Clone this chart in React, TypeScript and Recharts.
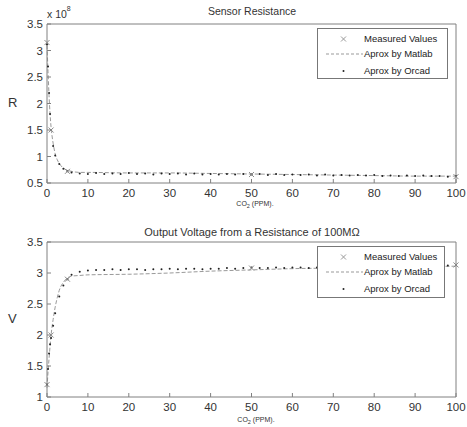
import React from 'react';
import { ComposedChart, Line, Scatter, XAxis, YAxis, Legend } from 'recharts';

const FONT = '"Liberation Sans", Arial, sans-serif';

// ---------- data ----------
const xTicks = [0, 10, 20, 30, 40, 50, 60, 70, 80, 90, 100];
const rTicks = [0.5, 1, 1.5, 2, 2.5, 3, 3.5];
const vTicks = [1, 1.5, 2, 2.5, 3, 3.5];

const measuredX = [0, 1, 5, 50, 100];
const measuredR = [3.15, 1.5, 0.72, 0.66, 0.62];
const measuredV = [1.2, 2.0, 2.9, 3.08, 3.13];

const matlabX = [0, 0.25, 0.5, 0.75, 1, 1.5, 2, 2.5, 3, 4, 5, 6, 8, 10, 20, 30, 40, 50, 60, 70, 80, 90, 100];
const matlabR = [3.1, 2.6, 2.15, 1.8, 1.55, 1.25, 1.05, 0.94, 0.87, 0.78, 0.74, 0.72, 0.7, 0.7, 0.69, 0.69, 0.68, 0.67, 0.66, 0.65, 0.64, 0.63, 0.63];
const matlabV = [1.15, 1.4, 1.62, 1.82, 2.0, 2.25, 2.45, 2.6, 2.72, 2.85, 2.92, 2.95, 2.96, 2.97, 2.98, 3.0, 3.03, 3.05, 3.07, 3.08, 3.09, 3.1, 3.11];

const orcadX = [0, 0.25, 0.5, 0.75, 1, 1.5, 2, 3, 4, 5, 6, 8,
  10, 12, 14, 16, 18, 20, 22, 24, 26, 28, 30, 32, 34, 36, 38, 40, 42, 44, 46, 48, 50,
  52, 54, 56, 58, 60, 62, 64, 66, 68, 70, 72, 74, 76, 78, 80, 82, 84, 86, 88, 90,
  92, 94, 96, 98, 100];
const orcadR = [3.12, 2.7, 2.2, 1.8, 1.5, 1.2, 1.02, 0.86, 0.77, 0.72, 0.7, 0.68,
  0.67, 0.69, 0.67, 0.68, 0.67, 0.69, 0.67, 0.68, 0.66, 0.68, 0.67, 0.68, 0.66, 0.68, 0.66, 0.67, 0.66, 0.67, 0.66, 0.67, 0.66,
  0.67, 0.65, 0.67, 0.65, 0.66, 0.65, 0.66, 0.64, 0.66, 0.64, 0.65, 0.64, 0.65, 0.64, 0.65, 0.63, 0.64, 0.63, 0.64, 0.63,
  0.64, 0.63, 0.63, 0.62, 0.63];
const orcadV = [1.2, 1.45, 1.7, 1.85, 1.95, 2.15, 2.35, 2.62, 2.8, 2.9, 2.97, 3.02,
  3.04, 3.05, 3.05, 3.06, 3.05, 3.06, 3.06, 3.05, 3.06, 3.06, 3.07, 3.06, 3.07, 3.07, 3.06, 3.07, 3.07, 3.08, 3.07, 3.08, 3.09,
  3.08, 3.08, 3.09, 3.08, 3.09, 3.09, 3.08, 3.09, 3.09, 3.1, 3.09, 3.1, 3.1, 3.09, 3.1, 3.1, 3.1, 3.1, 3.11, 3.11,
  3.11, 3.11, 3.12, 3.12, 3.13];

const toPts = (xs: number[], ys: number[]) => xs.map((x, i) => ({ x, y: ys[i] }));

// ---------- styling helpers ----------
const AXIS = '#808080';
const TXT = '#333';

const BottomTick = (p: any) => (
  <g>
    <line x1={p.x} x2={p.x} y1={p.y} y2={p.y - 4} stroke={AXIS} />
    <text x={p.x} y={p.y + 14} textAnchor="middle" fontSize={11.5} fill={TXT} fontFamily={FONT}>{p.payload.value}</text>
  </g>
);
const TopTick = (p: any) => (
  <line x1={p.x} x2={p.x} y1={p.y} y2={p.y + 4} stroke={AXIS} />
);
const LeftTick = (p: any) => (
  <g>
    <line x1={p.x} x2={p.x + 4} y1={p.y} y2={p.y} stroke={AXIS} />
    <text x={p.x - 4} y={p.y + 4} textAnchor="end" fontSize={11.5} fill={TXT} fontFamily={FONT}>{p.payload.value}</text>
  </g>
);
const RightTick = (p: any) => (
  <line x1={p.x} x2={p.x - 4} y1={p.y} y2={p.y} stroke={AXIS} />
);

const Cross = (p: any) => (
  <path d={`M${p.cx - 2.5},${p.cy - 2.5}L${p.cx + 2.5},${p.cy + 2.5}M${p.cx - 2.5},${p.cy + 2.5}L${p.cx + 2.5},${p.cy - 2.5}`} stroke="#8a8a8a" strokeWidth={1} />
);
const Dot = (p: any) => <circle cx={p.cx} cy={p.cy} r={1} fill="#222" />;

const LegendBox = () => (
  <div style={{ width: '100%', height: '100%', boxSizing: 'border-box', border: '1px solid #777', background: '#fff', position: 'relative', fontFamily: FONT, fontSize: 9.5, color: '#222' }}>
    <svg width={48} height={50} style={{ position: 'absolute', left: 0, top: 0 }}>
      <path d="M23,7.5L28,12.5M23,12.5L28,7.5" stroke="#999" />
      <line x1={8} x2={45} y1={25} y2={25} stroke="#999" strokeDasharray="3 2" />
      <circle cx={25.5} cy={42} r={1} fill="#222" />
    </svg>
    <div style={{ position: 'absolute', left: 46, top: 4 }}>Measured Values</div>
    <div style={{ position: 'absolute', left: 46, top: 19 }}>Aprox by Matlab</div>
    <div style={{ position: 'absolute', left: 46, top: 36 }}>Aprox by Orcad</div>
  </div>
);

type PanelProps = {
  height: number; topH: number; bottomH: number;
  ticks: number[]; domain: [number, number];
  measured: number[]; matlab: number[]; orcad: number[];
  legend: { left: number; top: number; width: number; height: number };
};

const Panel = ({ height, topH, bottomH, ticks, domain, measured, matlab, orcad, legend }: PanelProps) => (
  <ComposedChart width={467} height={height} margin={{ top: 0, right: 0, bottom: 0, left: 0 }}>
    <XAxis xAxisId="b" dataKey="x" type="number" domain={[0, 100]} ticks={xTicks}
      orientation="bottom" height={bottomH} tickSize={0} tickMargin={0} tickLine={false}
      axisLine={{ stroke: AXIS }} tick={<BottomTick />} interval={0} />
    <XAxis xAxisId="t" dataKey="x" type="number" domain={[0, 100]} ticks={xTicks}
      orientation="top" height={topH} tickSize={0} tickMargin={0} tickLine={false}
      axisLine={{ stroke: AXIS }} tick={<TopTick />} interval={0} />
    <YAxis yAxisId="l" dataKey="y" type="number" domain={domain} ticks={ticks}
      orientation="left" width={47} tickSize={0} tickMargin={0} tickLine={false}
      axisLine={{ stroke: AXIS }} tick={<LeftTick />} interval={0} />
    <YAxis yAxisId="r" dataKey="y" type="number" domain={domain} ticks={ticks}
      orientation="right" width={11} tickSize={0} tickMargin={0} tickLine={false}
      axisLine={{ stroke: AXIS }} tick={<RightTick />} interval={0} />
    <Line xAxisId="b" yAxisId="l" data={toPts(matlabX, matlab)} dataKey="y" type="monotone"
      stroke="#9a9a9a" strokeWidth={1} strokeDasharray="4 2" dot={false} isAnimationActive={false} />
    <Scatter xAxisId="b" yAxisId="l" data={toPts(orcadX, orcad)} dataKey="y" shape={<Dot />} isAnimationActive={false} />
    <Scatter xAxisId="b" yAxisId="l" data={toPts(measuredX, measured)} dataKey="y" shape={<Cross />} isAnimationActive={false} />
    <Legend layout="vertical" align="center" verticalAlign="middle" content={<LegendBox />}
      wrapperStyle={{ position: 'absolute', left: legend.left, top: legend.top, width: legend.width, height: legend.height, margin: 0 }} />
  </ComposedChart>
);

const abs = (left: number, top: number, extra: any = {}) => ({ position: 'absolute' as const, left, top, fontFamily: FONT, color: TXT, whiteSpace: 'nowrap' as const, lineHeight: 1, ...extra });

export default function App() {
  return (
    <div style={{ position: 'fixed', left: 0, top: 0, width: 467, height: 427, background: '#fff', overflow: 'hidden' }}>
      <div style={{ position: 'absolute', left: 0, top: 0 }}>
        <Panel height={215} topH={24} bottomH={32} ticks={rTicks} domain={[0.5, 3.5]}
          measured={measuredR} matlab={matlabR} orcad={orcadR}
          legend={{ left: 317, top: 28, width: 131, height: 51 }} />
      </div>
      <div style={{ position: 'absolute', left: 0, top: 215 }}>
        <Panel height={212} topH={27} bottomH={30} ticks={vTicks} domain={[1, 3.5]}
          measured={measuredV} matlab={matlabV} orcad={orcadV}
          legend={{ left: 317, top: 31, width: 128, height: 52 }} />
      </div>
      <div style={abs(252, 6, { fontSize: 10.5, transform: 'translateX(-50%)' })}>Sensor Resistance</div>
      <div style={abs(47, 9, { fontSize: 10.5 })}>x 10<sup style={{ fontSize: 7, verticalAlign: 'top', position: 'relative', top: -4 }}>8</sup></div>
      <div style={abs(252, 227, { fontSize: 11, transform: 'translateX(-50%)' })}>Output Voltage from a Resistance of 100MΩ</div>
      <div style={abs(8, 96, { fontSize: 13 })}>R</div>
      <div style={abs(8, 312, { fontSize: 13 })}>V</div>
      <div style={abs(255, 200, { fontSize: 7, transform: 'translateX(-50%)' })}>CO<sub style={{ fontSize: 5.5 }}>2</sub> (PPM).</div>
      <div style={abs(256, 416, { fontSize: 7, transform: 'translateX(-50%)' })}>CO<sub style={{ fontSize: 5.5 }}>2</sub> (PPM).</div>
    </div>
  );
}
